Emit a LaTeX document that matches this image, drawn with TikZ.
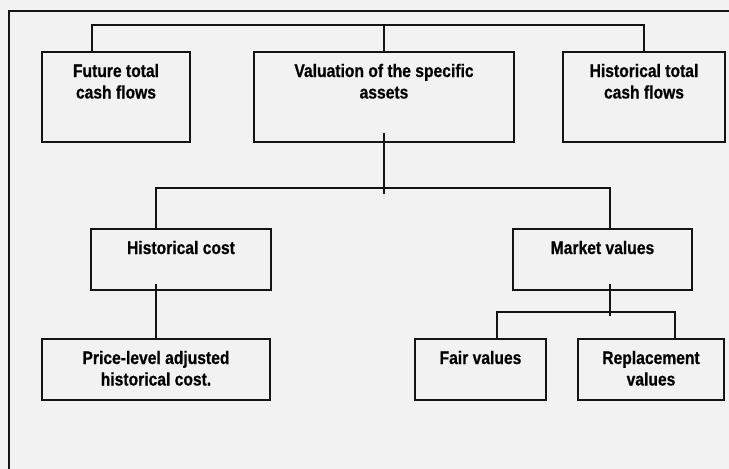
\documentclass[tikz,border=0pt]{standalone}
\usepackage{fontspec}
\setmainfont{Liberation Sans}[FakeStretch=0.86,FakeBold=0.6]
\usetikzlibrary{calc}
\definecolor{bg}{RGB}{242,242,242}
\definecolor{ink}{RGB}{20,20,20}
\newcommand\boxtxt[3]{\parbox[b][#2][t]{#1}{\centering\rule{0pt}{25pt}#3}}
\tikzset{
  box/.style={draw=ink, line width=1.8pt, inner sep=0pt, outer sep=0pt, anchor=north west},
  conn/.style={draw=ink, line width=1.6pt},
}
\begin{document}
\begin{tikzpicture}[x=1pt,y=-1pt,font=\bfseries\fontsize{18.2}{21.5}\selectfont]
\fill[bg] (0,0) rectangle (729,469);
\useasboundingbox (0,0) rectangle (729,469);
\draw[conn, line width=1.8pt] (9,469) -- (9,11) -- (729,11);

\node[box] (fut) at (42,52) {\boxtxt{148pt}{90pt}{Future total\\cash flows}};
\node[box] (val) at (254,52) {\boxtxt{260pt}{90pt}{Valuation of the specific\\assets}};
\node[box] (hist) at (563,52) {\boxtxt{162pt}{90pt}{Historical total\\cash flows}};
\node[box] (hc) at (91,229) {\boxtxt{180pt}{61pt}{Historical cost}};
\node[box] (mv) at (513,229) {\boxtxt{179pt}{61pt}{Market values}};
\node[box] (pl) at (42,339) {\boxtxt{228pt}{61pt}{Price-level adjusted\\historical cost.}};
\node[box] (fv) at (415,339) {\boxtxt{131pt}{61pt}{Fair values}};
\node[box] (rv) at (578,339) {\boxtxt{146pt}{61pt}{Replacement\\values}};

\coordinate (t1) at (384,25);
\coordinate (b2) at (384,188);
\coordinate (b3) at (610,312);

\draw[conn] ($(fut.north west)+(50,0)$) |- (t1) -| (hist.north);
\draw[conn] (val.north) -- (t1);
\draw[conn] ($(val.south)+(0,-9)$) -- ($(b2)+(0,6)$);
\draw[conn] ($(hc.north west)+(65,0)$) |- (b2) -| ($(mv.north west)+(97,0)$);
\draw[conn] ($(hc.south west)+(65,-6)$) -- (pl.north);
\draw[conn] ($(mv.south west)+(97,-6)$) -- ($(b3)+(0,4)$);
\draw[conn] ($(fv.north west)+(82,0)$) |- (b3) -| ($(rv.north west)+(97,0)$);
\end{tikzpicture}
\end{document}
